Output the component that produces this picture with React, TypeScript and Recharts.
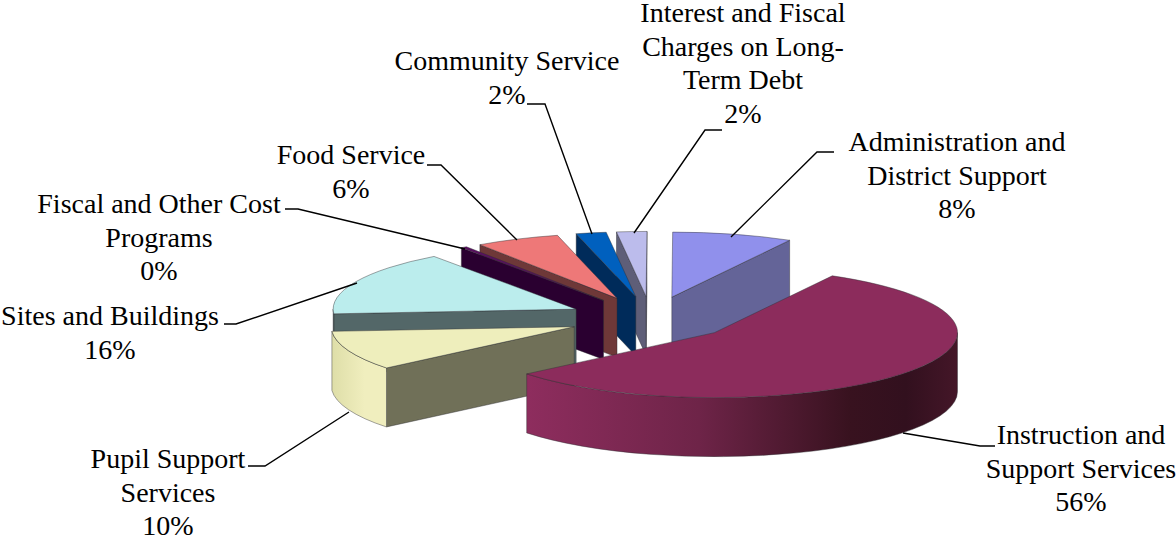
import React from 'react';
import { PieChart, Pie, Cell } from 'recharts';

// Data, in drawing order (back to front, counter-clockwise from the Administration slice)
const names = [
  'Administration and District Support',
  'Interest and Fiscal Charges on Long-Term Debt',
  'Community Service',
  'Food Service',
  'Fiscal and Other Cost Programs',
  'Sites and Buildings',
  'Pupil Support Services',
  'Instruction and Support Services',
];
const shares = [8, 2, 2, 5.6, 0.4, 16.2, 9.8, 56];
const topColors = ['#9090EC', '#BCBCEC', '#0060BE', '#EE7878', '#5A1060', '#BBEDED', '#EEEEBC', '#8C2C5C'];
const wallColors = ['#646498', '#5E5E78', '#002B5A', '#6E3838', '#2A0030', '#536768', '#707058', '#8C2C5C'];

const labelLines = [
  ['Administration and', 'District Support'],
  ['Interest and Fiscal', 'Charges on Long-', 'Term Debt'],
  ['Community Service'],
  ['Food Service'],
  ['Fiscal and Other Cost', 'Programs'],
  ['Sites and Buildings'],
  ['Pupil Support', 'Services'],
  ['Instruction and', 'Support Services'],
];

// Layout of labels: centre x, first baseline y, leader polyline
const labelX = [957, 743, 507, 351, 159, 110, 168, 1081];
const labelY = [151, 22, 70, 164, 213, 325, 468, 444];
const leaders = [
  '834,152 817,152 731,237',
  '722,130 705,130 634,233',
  '527,104 545,104 592,234',
  '427,165 441,165 517,240',
  '285,209 298,209 465,249',
  '224,324 236,324 357,283',
  '248,466 265,466 349,412',
  '995,446 980,446 903,433',
];

const WIDTH = 1176;
const HEIGHT = 539;
const CX = 651;
const CY = 318.5;
const RX = 243;
const RY = 65;
const DEPTH = 59;
const EXPLODE = 0.34;
const FONT = 'Liberation Serif, serif';
const LINE_H = 33.5;
const START = 61;

const rad = (d: number) => (d * Math.PI) / 180;

function WedgeShape(props: any) {
  const { startAngle, endAngle, fill, index, payload } = props;
  const idx = index ?? names.indexOf(payload?.name);
  const s = Math.min(startAngle, endAngle);
  const e = Math.max(startAngle, endAngle);
  const mid = rad((s + e) / 2);
  const ax = CX + EXPLODE * RX * Math.cos(mid);
  const ay = CY - EXPLODE * RY * Math.sin(mid);
  const pt = (deg: number, drop = 0) => [
    ax + RX * Math.cos(rad(deg)),
    ay - RY * Math.sin(rad(deg)) + drop,
  ];
  const f = (p: number[]) => `${p[0].toFixed(2)} ${p[1].toFixed(2)}`;
  const arc = (from: number, to: number, drop: number, sweep: number) => {
    const large = Math.abs(to - from) > 180 ? 1 : 0;
    return `A ${RX} ${RY} 0 ${large} ${sweep} ${f(pt(to, drop))}`;
  };
  const edge = 'rgba(45,45,50,0.55)';
  const top = `M ${ax} ${ay} L ${f(pt(s))} ${arc(s, e, 0, 0)} Z`;
  const radial = (deg: number) =>
    `M ${ax} ${ay} L ${f(pt(deg))} L ${f(pt(deg, DEPTH))} L ${ax} ${ay + DEPTH} Z`;

  // Part of the rim that faces the viewer
  const fs = Math.max(s, 180);
  const fe = Math.min(e, 360);
  const rim =
    fe > fs
      ? `M ${f(pt(fs))} ${arc(fs, fe, 0, 0)} L ${f(pt(fe, DEPTH))} ${arc(fe, fs, DEPTH, 1)} Z`
      : null;
  const gradId = `rim-${idx}`;
  const rimFill = idx === 7 || idx === 6 ? `url(#${gradId})` : wallColors[idx];

  return (
    <g>
      <defs>
        <linearGradient id="rim-7" x1="0" y1="0" x2="1" y2="0">
          <stop offset="0" stopColor="#8E2D5E" />
          <stop offset="0.4" stopColor="#6E2448" />
          <stop offset="0.75" stopColor="#38121F" />
          <stop offset="0.88" stopColor="#32101E" />
          <stop offset="1" stopColor="#441628" />
        </linearGradient>
        <linearGradient id="rim-6" x1="0" y1="0" x2="1" y2="0">
          <stop offset="0" stopColor="#DEDEA8" />
          <stop offset="0.6" stopColor="#F0EEBE" />
          <stop offset="1" stopColor="#F0EEBE" />
        </linearGradient>
      </defs>
      {Math.cos(rad(s)) > 0.001 && <path d={radial(s)} fill={wallColors[idx]} stroke={edge} strokeWidth={0.8} />}
      {Math.cos(rad(e)) < -0.001 && <path d={radial(e)} fill={wallColors[idx]} stroke={edge} strokeWidth={0.8} />}
      {rim && <path d={rim} fill={rimFill} stroke={edge} strokeWidth={0.8} />}
      <path d={top} fill={fill} stroke={edge} strokeWidth={0.8} strokeLinejoin="round" />
    </g>
  );
}

function renderLabel(props: any) {
  const idx = props.index;
  const lines = [...labelLines[idx], `${Math.round(shares[idx])}%`];
  return (
    <g key={`label-${idx}`}>
      <polyline points={leaders[idx]} fill="none" stroke="#000" strokeWidth={1.4} />
      <text x={labelX[idx]} y={labelY[idx]} textAnchor="middle" fontFamily={FONT} fontSize={28} fill="#000" style={{ whiteSpace: 'pre' }}>
        {lines.map((l, i) => (
          <tspan key={i} x={labelX[idx]} y={labelY[idx] + i * LINE_H}>
            {l}
          </tspan>
        ))}
      </text>
    </g>
  );
}

const rows = names.map((name, i) => ({ name, value: shares[i] }));

export default function App() {
  return (
    <div style={{ position: 'absolute', left: 0, top: 0, width: WIDTH, height: HEIGHT, background: '#fff' }}>
      <PieChart width={WIDTH} height={HEIGHT} margin={{ top: 0, right: 0, bottom: 0, left: 0 }}>
        <Pie
          data={rows}
          dataKey="value"
          nameKey="name"
          cx={CX}
          cy={CY}
          innerRadius={0}
          outerRadius={RX}
          startAngle={START}
          endAngle={START + 360}
          paddingAngle={0}
          stroke="none"
          shape={WedgeShape}
          label={renderLabel}
          labelLine={false}
          isAnimationActive={false}
        >
          {rows.map((r, i) => (
            <Cell key={r.name} fill={topColors[i]} />
          ))}
        </Pie>
      </PieChart>
    </div>
  );
}
